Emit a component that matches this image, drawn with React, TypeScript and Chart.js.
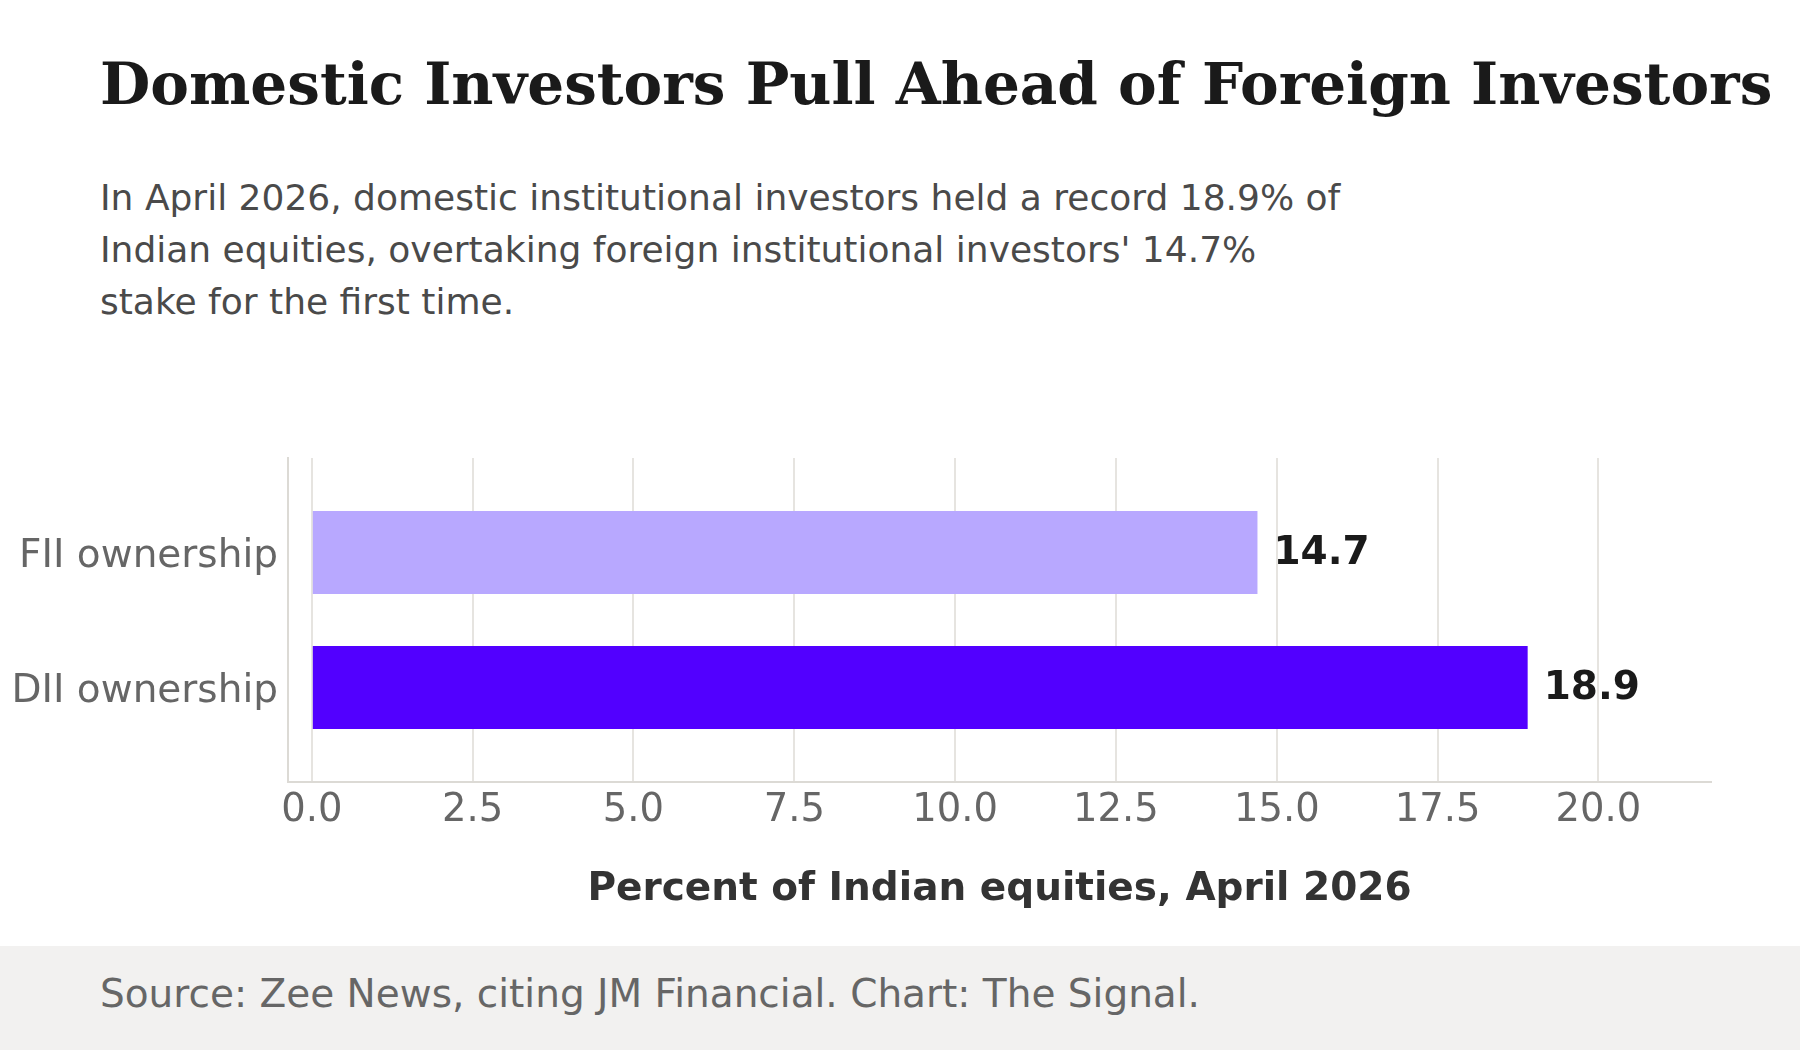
import React, { useEffect, useRef } from "react";
import { Chart, registerables } from "chart.js";

Chart.register(...registerables);

// Ownership share of Indian equities, April 2026
const categories = ["FII ownership", "DII ownership"];
const shares = [14.7, 18.9];
const barColors = ["#b8a8ff", "#5200ff"];
const xTickValues = [0, 2.5, 5, 7.5, 10, 12.5, 15, 17.5, 20];

const title = "Domestic Investors Pull Ahead of Foreign Investors";
const subtitleLines = [
  "In April 2026, domestic institutional investors held a record 18.9% of",
  "Indian equities, overtaking foreign institutional investors' 14.7%",
  "stake for the first time.",
];
const axisTitle = "Percent of Indian equities, April 2026";
const sourceNote = "Source: Zee News, citing JM Financial. Chart: The Signal.";

const SANS = "'DejaVu Sans', sans-serif";

const valueLabels = {
  id: "valueLabels",
  afterDatasetsDraw(chart: any) {
    const ctx = chart.ctx;
    const meta = chart.getDatasetMeta(0);
    ctx.save();
    ctx.font = `bold 39px ${SANS}`;
    ctx.fillStyle = "#1a1a1a";
    ctx.textAlign = "left";
    ctx.textBaseline = "alphabetic";
    meta.data.forEach((bar: any, i: number) => {
      ctx.fillText(shares[i].toFixed(1), bar.x + 16, bar.y + 11);
    });
    ctx.restore();
  },
};

export default function App() {
  const canvasRef = useRef<HTMLCanvasElement>(null);

  useEffect(() => {
    document.body.style.margin = "0";
    const canvas = canvasRef.current;
    if (!canvas) return;
    const chart = new Chart(canvas, {
      type: "bar",
      data: {
        datasets: [
          {
            data: categories.map((_, i) => ({ x: shares[i], y: i })),
            backgroundColor: barColors,
            borderWidth: 0,
            barPercentage: 0.615,
            categoryPercentage: 1,
          },
        ],
      },
      options: {
        indexAxis: "y",
        animation: false,
        responsive: false,
        maintainAspectRatio: false,
        layout: { padding: { top: 58, right: 89, left: 0, bottom: 0 } },
        plugins: {
          legend: { display: false },
          tooltip: { enabled: false },
        },
        scales: {
          x: {
            type: "linear",
            position: "bottom",
            min: -0.37,
            max: 21.75,
            offset: false,
            afterBuildTicks: (axis: any) => {
              axis.ticks = xTickValues.map((v) => ({ value: v }));
            },
            afterFit: (axis: any) => {
              axis.height = 158;
            },
            grid: {
              display: true,
              offset: false,
              color: "#e6e4e0",
              lineWidth: 2,
              drawTicks: false,
            },
            border: { display: true, color: "#dcdad5", width: 2 },
            ticks: {
              padding: 6,
              color: "#666666",
              font: { family: SANS, size: 38.5 },
              callback: (v: any) => Number(v).toFixed(1),
            },
            title: {
              display: true,
              text: axisTitle,
              color: "#333333",
              font: { family: SANS, size: 39, weight: "bold" },
              padding: { top: 0, bottom: 27 },
            },
          },
          y: {
            type: "linear",
            position: "left",
            reverse: true,
            offset: false,
            min: -0.7,
            max: 1.7,
            afterBuildTicks: (axis: any) => {
              axis.ticks = categories.map((_, i) => ({ value: i }));
            },
            afterFit: (axis: any) => {
              axis.width = 288;
            },
            grid: { display: false, offset: false, drawTicks: false },
            border: { display: true, color: "#dcdad5", width: 2 },
            ticks: {
              padding: 10,
              labelOffset: 4.5,
              color: "#666666",
              font: { family: SANS, size: 39 },
              callback: (v: any) => categories[Math.round(Number(v))] ?? "",
            },
          },
        },
      },
      plugins: [valueLabels],
    });
    return () => chart.destroy();
  }, []);

  return (
    <div
      style={{
        position: "relative",
        width: 1800,
        height: 1050,
        background: "#ffffff",
        overflow: "hidden",
      }}
    >
      <div
        style={{
          position: "absolute",
          left: 100,
          top: 55,
          fontFamily: "'DejaVu Serif', serif",
          fontWeight: "bold",
          fontSize: 58,
          lineHeight: "58px",
          color: "#1a1a1a",
          whiteSpace: "nowrap",
        }}
      >
        {title}
      </div>
      <div
        style={{
          position: "absolute",
          left: 100,
          top: 171.5,
          fontFamily: SANS,
          fontSize: 36,
          lineHeight: "52px",
          color: "#4a4a4a",
          whiteSpace: "nowrap",
        }}
      >
        {subtitleLines.map((line, i) => (
          <div key={i}>{line}</div>
        ))}
      </div>
      <canvas
        ref={canvasRef}
        width={1800}
        height={540}
        style={{ position: "absolute", left: 0, top: 400, width: 1800, height: 540 }}
      />
      <div
        style={{
          position: "absolute",
          left: 0,
          top: 946,
          width: 1800,
          height: 104,
          background: "#f2f1f0",
        }}
      >
        <div
          style={{
            position: "absolute",
            left: 100,
            top: 24.5,
            fontFamily: SANS,
            fontSize: 39,
            lineHeight: "46px",
            color: "#666666",
            whiteSpace: "nowrap",
          }}
        >
          {sourceNote}
        </div>
      </div>
    </div>
  );
}
